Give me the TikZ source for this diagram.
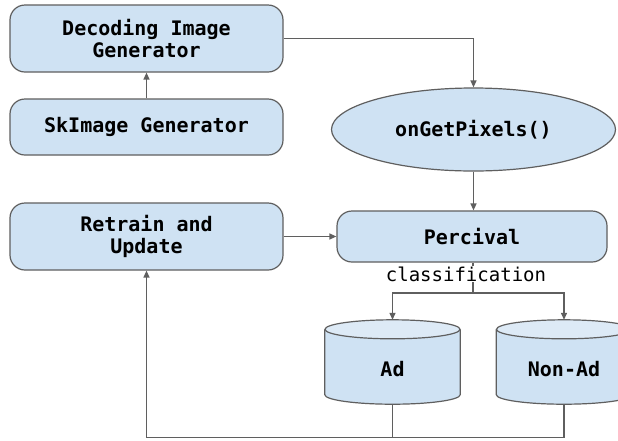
\documentclass[tikz,border=0pt]{standalone}
\usepackage{fontspec}
\setmonofont{DejaVu Sans Mono}
\usetikzlibrary{arrows.meta,shapes.geometric,calc,backgrounds}

\definecolor{boxfill}{HTML}{CFE2F3}
\definecolor{cyltop}{HTML}{DDEAF6}
\definecolor{edge}{HTML}{5F5F5F}

% cylinder outline behind a named node (ellipse half-height 9.5)
\newcommand\drawstore[1]{%
  \path[fill=boxfill]
    ($(#1.north west)+(0,9.5)$) -- ($(#1.south west)+(0,-9.5)$)
    .. controls ($(#1.south west)+(0,-4.25)$) and ($(#1.south)+(-37.3,0)$) .. (#1.south)
    .. controls ($(#1.south)+(37.3,0)$) and ($(#1.south east)+(0,-4.25)$) .. ($(#1.south east)+(0,-9.5)$)
    -- ($(#1.north east)+(0,9.5)$) -- cycle;
  \draw[edge, line width=1.2pt]
    ($(#1.north west)+(0,9.5)$) -- ($(#1.south west)+(0,-9.5)$)
    .. controls ($(#1.south west)+(0,-4.25)$) and ($(#1.south)+(-37.3,0)$) .. (#1.south)
    .. controls ($(#1.south)+(37.3,0)$) and ($(#1.south east)+(0,-4.25)$) .. ($(#1.south east)+(0,-9.5)$)
    -- ($(#1.north east)+(0,9.5)$);
  \path[fill=cyltop, draw=edge, line width=1.2pt]
    ($(#1.north)+(0,9.5)$) ellipse [x radius=67.5, y radius=9.5];
}

\begin{document}
\begin{tikzpicture}[x=1pt, y=-1pt,
  lbl/.style={font=\ttfamily\bfseries\fontsize{20}{22}\selectfont, text=black, align=center},
  procbox/.style={lbl, draw=edge, fill=boxfill, line width=1.2pt, rounded corners=15pt,
    inner sep=0pt},
  oval/.style={lbl, ellipse, draw=edge, fill=boxfill, line width=1.2pt, inner sep=0pt},
  store/.style={lbl, rectangle, inner sep=0pt, minimum width=135pt, minimum height=84pt,
    text height=29pt, text depth=0pt},
  conn/.style={edge, line width=1.3pt},
  arr/.style={conn, -{Triangle[length=7pt,width=6pt]}}
]
\useasboundingbox (0,0) rectangle (618,440);

\node[procbox, minimum width=273pt, minimum height=67pt] (dec) at (146.5,38.5)
  {Decoding Image\\Generator};
\node[procbox, minimum width=273pt, minimum height=56pt] (sk) at (146.5,127)
  {SkImage Generator};
\node[procbox, minimum width=273pt, minimum height=67pt] (ret) at (146.5,236.5)
  {Retrain and\\Update};
\node[oval, minimum width=284pt, minimum height=83pt] (pix) at (473.5,129.5)
  {onGetPixels()};
\node[procbox, minimum width=270pt, minimum height=51pt] (perc) at (472,236.5)
  {Percival};
\node[store] (ad) at (392.5,362) {Ad};
\node[store] (nonad) at (564,362) {Non-Ad};

\begin{scope}[on background layer]
  \fill[white] (0,0) rectangle (618,440);
  \drawstore{ad}
  \drawstore{nonad}
\end{scope}

\coordinate (fork) at (473,293);
\coordinate (bus) at (146.5,437.5);

\draw[arr] (sk.north) -- (dec.south);
\draw[arr] (dec.east) -| (pix.north);
\draw[arr] (pix.south) -- (pix.south |- perc.north);
\draw[arr] (ret.east) -- (perc.west);
\draw[conn] (perc.south -| fork) -- (fork);
\draw[arr] (fork) -| (ad.north);
\draw[arr] (fork) -| (nonad.north);
\node[fill=white, inner sep=1pt, font=\ttfamily\fontsize{19}{20}\selectfont] (cls) at (466,274)
  {classification};
\draw[conn] (nonad.south) -- (nonad.south |- bus) -- (bus);
\draw[arr] (ad.south) -- (ad.south |- bus) -- (bus) -- (ret.south);
\end{tikzpicture}
\end{document}
